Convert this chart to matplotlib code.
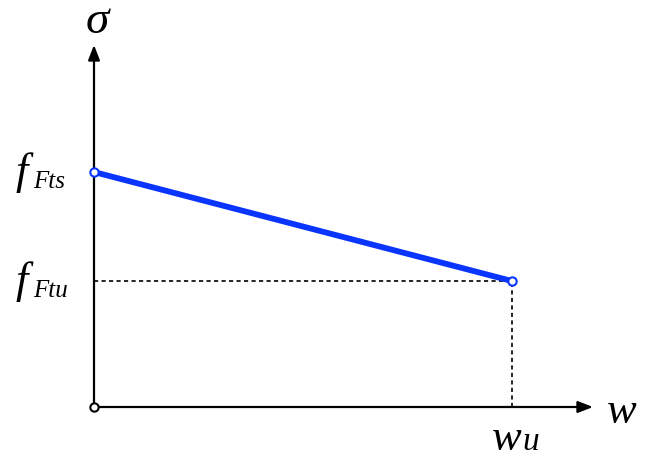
import matplotlib
matplotlib.use("Agg")
import matplotlib.pyplot as plt

# data (normalized units)
w_points = [0.0, 1.0]          # w = 0 and w = w_u
sigma_points = [1.0, 0.536]    # f_Fts, f_Ftu
y_label_main = "f"
y_label_subs = ["Fts", "Ftu"]
x_label_main = "w"
x_label_sub = "u"

SERIF = "Liberation Serif"

W, H = 660, 461
fig = plt.figure(figsize=(W / 100, H / 100), dpi=100)
ax = fig.add_axes([0, 0, 1, 1])
ox, oy = 94, 407
sx, sy = 418, 235
ax.set_xlim(-ox / sx, (W - ox) / sx)
ax.set_ylim(-(H - oy) / sy, oy / sy)
ax.axis("off")

# axes with arrows
x_end = (593 - ox) / sx
y_end = (oy - 45) / sy
for tip in [(x_end, 0), (0, y_end)]:
    ax.annotate("", xy=tip, xytext=(0, 0),
                arrowprops=dict(arrowstyle="-|>,head_length=0.9,head_width=0.35",
                                lw=1.6, color="black", shrinkA=0, shrinkB=0))

# dashed guide lines
ax.plot([0, w_points[1]], [sigma_points[1], sigma_points[1]], color="black",
        lw=1.2, ls=(0, (2.5, 2)))
ax.plot([w_points[1], w_points[1]], [0, sigma_points[1]], color="black",
        lw=1.2, ls=(0, (2.5, 2)))

# main line
blue = "#0a35ff"
ax.plot(w_points, sigma_points, color=blue, lw=4.2, solid_capstyle="butt", zorder=3)
ax.plot(w_points, sigma_points, ls="none", marker="o", ms=6, mfc="white",
        mec=blue, mew=1.5, zorder=4)
ax.plot([0], [0], ls="none", marker="o", ms=6, mfc="white", mec="black", mew=1.5, zorder=4)


def label(xy, text, dx, dy, size, ha="left", va="baseline"):
    ax.annotate(text, xy=xy, xycoords="data", xytext=(dx, dy),
                textcoords="offset pixels", fontsize=size, family=SERIF,
                style="italic", ha=ha, va=va, annotation_clip=False)


# sigma
label((0, y_end), "\u03c3", 3, 12, 34, ha="center")
# y labels
for s, sub in zip(sigma_points, y_label_subs):
    label((0, s), y_label_main, -79, -12, 32)
    label((0, s), sub, -61, -16, 18)
# w axis label
label((x_end, 0), x_label_main, 14, -16, 32)
# w_u
label((w_points[1], 0), x_label_main, -20, -43, 32)
label((w_points[1], 0), x_label_sub, 10, -43, 24)

fig.savefig("out.png", dpi=100)
